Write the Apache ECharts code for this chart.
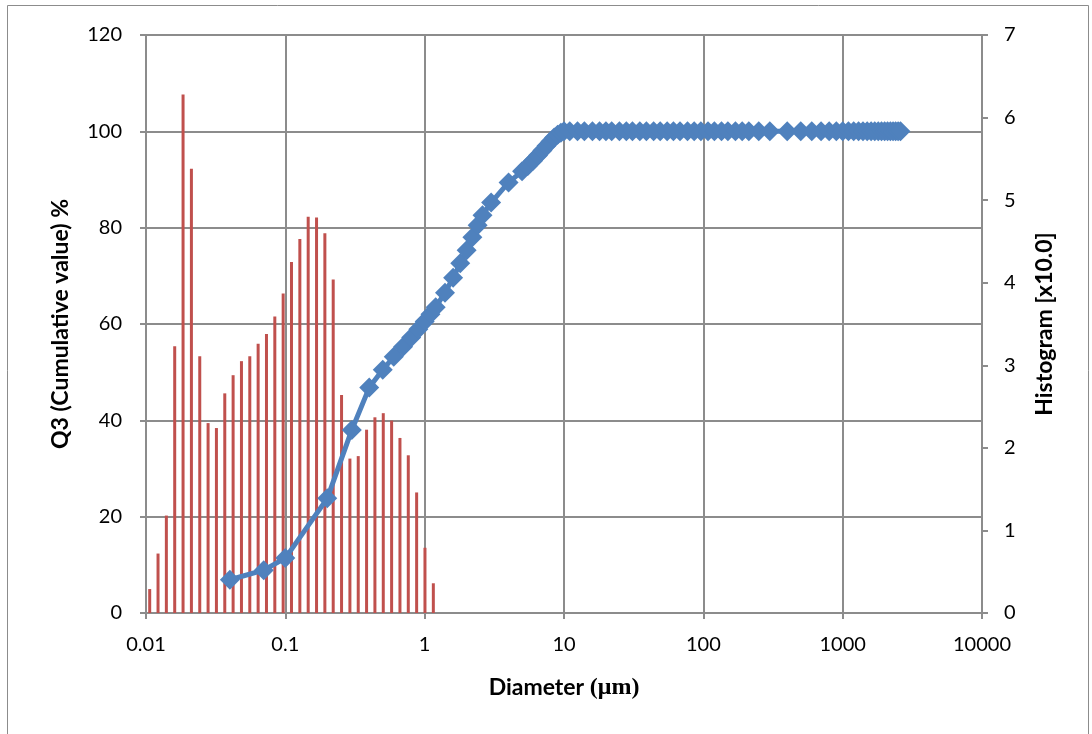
<!DOCTYPE html>
<html>
<head>
<meta charset="utf-8">
<script src="https://cdn.jsdelivr.net/npm/echarts@6/dist/echarts.min.js"></script>
<style>
html,body{margin:0;padding:0;background:#fff;}
#chart{width:1092px;height:734px;}
</style>
</head>
<body>
<div id="chart"></div>
<script>
// Histogram (right axis, x10.0)
const histDiameter = [0.01063, 0.01220, 0.01400, 0.01607, 0.01845, 0.02118, 0.02431, 0.02790, 0.03202, 0.03676,
  0.04219, 0.04843, 0.05558, 0.06380, 0.07323, 0.08405, 0.09648, 0.1107, 0.1271, 0.1459,
  0.1675, 0.1922, 0.2206, 0.2532, 0.2907, 0.3336, 0.3829, 0.4395, 0.5045, 0.5791,
  0.6647, 0.7629, 0.8757, 1.005, 1.154];
const histValue = [0.29, 0.72, 1.18, 3.23, 6.28, 5.38, 3.11, 2.30, 2.24, 2.66,
  2.88, 3.05, 3.11, 3.26, 3.38, 3.59, 3.87, 4.25, 4.53, 4.80,
  4.79, 4.60, 4.04, 2.64, 1.87, 1.90, 2.22, 2.37, 2.42, 2.33,
  2.12, 1.91, 1.46, 0.79, 0.36];

// Cumulative Q3 (left axis, %)
const cumDiameter = [0.04, 0.07, 0.1, 0.2, 0.3, 0.4, 0.5, 0.6, 0.7, 0.8, 0.9, 1.0, 1.1, 1.2, 1.4, 1.6, 1.8, 2.0, 2.2, 2.4, 2.6,
  3, 4, 5, 5.5, 6, 6.5, 7, 7.5, 8, 8.5, 9, 9.5, 10,
  11, 12.5, 14, 16, 18, 20, 22, 25, 28, 31, 35, 39, 44, 49, 55, 61, 68, 77, 86, 96,
  108, 120, 135, 150, 170, 190, 212, 250, 300, 400, 500, 600, 700, 800, 900, 1000,
  1100, 1200, 1300, 1400, 1500, 1600, 1700, 1800, 1900, 2000, 2100, 2200, 2300, 2400, 2500, 2600];
const cumValue = [6.9, 8.9, 11.4, 23.8, 38.0, 46.8, 50.5, 53.2, 55.3, 57.2, 58.9, 60.5, 62.0, 63.5, 66.5, 69.6, 72.6, 75.3, 78.0, 80.5, 82.6,
  85.2, 89.4, 91.7, 92.8, 93.9, 95.0, 96.0, 97.0, 97.9, 98.7, 99.3, 99.7, 100,
  100, 100, 100, 100, 100, 100, 100, 100, 100, 100, 100, 100, 100, 100, 100, 100, 100, 100, 100, 100,
  100, 100, 100, 100, 100, 100, 100, 100, 100, 100, 100, 100, 100, 100, 100, 100,
  100, 100, 100, 100, 100, 100, 100, 100, 100, 100, 100, 100, 100, 100, 100, 100];

const xTickLabels = ['0.01', '0.1', '1', '10', '100', '1000', '10000'];
const leftTicks = [0, 20, 40, 60, 80, 100, 120];
const rightTicks = [0, 1, 2, 3, 4, 5, 6, 7];

const FONT = 'Lato, "Liberation Sans", sans-serif';
const GRID_COLOR = '#8C8C8C';

const chart = echarts.init(document.getElementById('chart'), null, {renderer: 'canvas'});
const option = {
  backgroundColor: '#ffffff',
  animation: false,
  graphic: [{
    type: 'rect',
    shape: {x: 7.5, y: 5.5, width: 1081, height: 760},
    style: {fill: 'none', stroke: '#8C8C8C', lineWidth: 1},
    silent: true
  }],
  grid: {left: 146, right: 110, top: 35, bottom: 121, containLabel: false},
  xAxis: {
    type: 'log',
    logBase: 10,
    min: 0.01,
    max: 10000,
    name: '{a|Diameter }{b|(μm)}',
    nameLocation: 'middle',
    nameGap: 63,
    nameTextStyle: {
      rich: {
        a: {fontFamily: FONT, fontWeight: 'bold', fontSize: 23, color: '#000'},
        b: {fontFamily: 'Liberation Serif', fontWeight: 'bold', fontSize: 24, color: '#000'}
      }
    },
    axisLine: {show: true, lineStyle: {color: GRID_COLOR, width: 2}},
    axisTick: {show: true, inside: false, length: 6, lineStyle: {color: GRID_COLOR, width: 2}},
    axisLabel: {
      fontFamily: FONT, fontSize: 20, color: '#000', margin: 22,
      formatter: function (v) {
        const i = Math.round(Math.log10(v)) + 2;
        return xTickLabels[i] !== undefined ? xTickLabels[i] : '';
      }
    },
    splitLine: {show: true, lineStyle: {color: GRID_COLOR, width: 2}},
    minorTick: {show: false},
    minorSplitLine: {show: false}
  },
  yAxis: [{
    type: 'value',
    position: 'left',
    min: leftTicks[0],
    max: leftTicks[leftTicks.length - 1],
    interval: 20,
    name: 'Q3 (Cumulative value) %',
    nameLocation: 'middle',
    nameRotate: 90,
    nameGap: 74,
    nameTextStyle: {fontFamily: FONT, fontWeight: 'bold', fontSize: 23, color: '#000'},
    axisLine: {show: true, lineStyle: {color: GRID_COLOR, width: 2}},
    axisTick: {show: true, inside: false, length: 6, lineStyle: {color: GRID_COLOR, width: 2}},
    axisLabel: {fontFamily: FONT, fontSize: 20, color: '#000', margin: 24},
    splitLine: {show: true, lineStyle: {color: GRID_COLOR, width: 2}}
  }, {
    type: 'value',
    position: 'right',
    min: rightTicks[0],
    max: rightTicks[rightTicks.length - 1],
    interval: 1,
    name: 'Histogram [x10.0]',
    nameLocation: 'middle',
    nameRotate: 90,
    nameGap: 51,
    nameTextStyle: {fontFamily: FONT, fontWeight: 'bold', fontSize: 23, color: '#000'},
    axisLine: {show: true, lineStyle: {color: GRID_COLOR, width: 2}},
    axisTick: {show: true, inside: false, length: 6, lineStyle: {color: GRID_COLOR, width: 2}},
    axisLabel: {fontFamily: FONT, fontSize: 20, color: '#000', margin: 22},
    splitLine: {show: false}
  }],
  series: [{
    name: 'Histogram',
    type: 'bar',
    xAxisIndex: 0,
    yAxisIndex: 1,
    barWidth: 3,
    itemStyle: {color: '#C0504D'},
    data: histDiameter.map((d, i) => [d, histValue[i]]),
    z: 2
  }, {
    name: 'Q3',
    type: 'line',
    xAxisIndex: 0,
    yAxisIndex: 0,
    symbol: 'diamond',
    symbolSize: 20,
    showAllSymbol: true,
    lineStyle: {color: '#4F81BD', width: 5},
    itemStyle: {color: '#4F81BD', borderWidth: 0},
    data: cumDiameter.map((d, i) => [d, cumValue[i]]),
    z: 3
  }]
};
chart.setOption(option);
</script>
</body>
</html>
